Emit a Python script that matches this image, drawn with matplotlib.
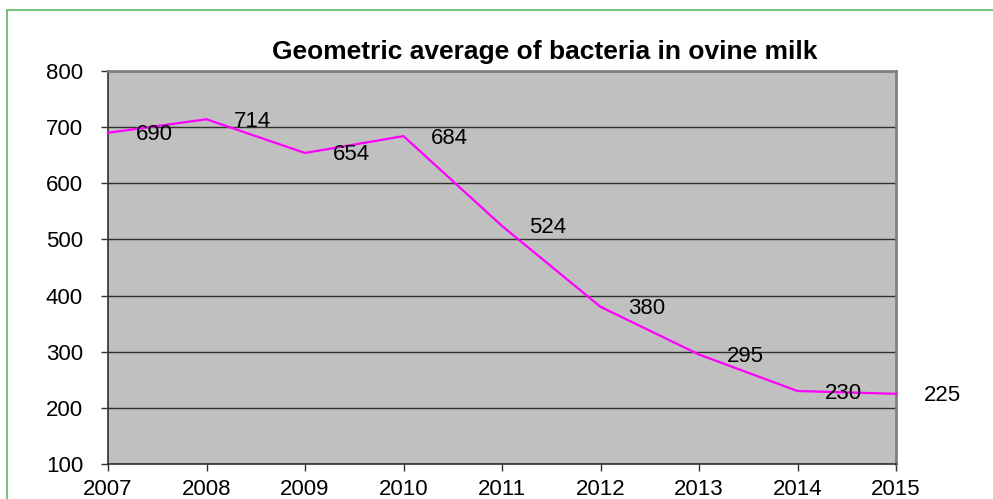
import matplotlib
matplotlib.use("Agg")
import matplotlib.pyplot as plt
from matplotlib.patches import Rectangle

years = [2007, 2008, 2009, 2010, 2011, 2012, 2013, 2014, 2015]
bacteria = [690, 714, 654, 684, 524, 380, 295, 230, 225]
title = "Geometric average of bacteria in ovine milk"

plt.rcParams['font.family'] = ['Liberation Sans', 'DejaVu Sans']

W, H = 993, 499
fig = plt.figure(figsize=(W / 100, H / 100), dpi=100)

# outer chart frame
fig.patches.append(Rectangle((7 / W, -0.1), 1.2, (H - 10) / H + 0.1,
                             transform=fig.transFigure, fill=False,
                             edgecolor='#5cb85c', linewidth=1.2))

left, right, top, bottom = 108, 896, 71, 464
ax = fig.add_axes([left / W, 1 - bottom / H, (right - left) / W, (bottom - top) / H])
ax.set_facecolor('#c0c0c0')
ax.set_xlim(2007, 2015)
ax.set_ylim(100, 800)
ax.set_yticks(range(100, 801, 100))
ax.set_xticks(years)
ax.grid(axis='y', color='#303030', linewidth=1.0)
ax.set_axisbelow(True)

for side in ['top', 'right']:
    ax.spines[side].set_color('#808080')
    ax.spines[side].set_linewidth(2)
for side in ['left', 'bottom']:
    ax.spines[side].set_color('#303030')
    ax.spines[side].set_linewidth(1.2)

ax.tick_params(axis='both', labelsize=16, colors='#303030', labelcolor='black',
               length=5, width=1)
ax.tick_params(axis='y', pad=13)
ax.tick_params(axis='x', pad=6)

ax.plot(years, bacteria, color='#ff00ff', linewidth=1.6, clip_on=False, zorder=3)

for x, y in zip(years, bacteria):
    ax.annotate(str(y), (x, y), xytext=(46, -2), textcoords='offset pixels',
                ha='center', va='center', fontsize=16, color='black',
                annotation_clip=False, zorder=4)

fig.text(545 / W, 1 - 52 / H, title, ha='center', va='center',
         fontsize=19, fontweight='bold')

fig.savefig('out.png', dpi=100)
